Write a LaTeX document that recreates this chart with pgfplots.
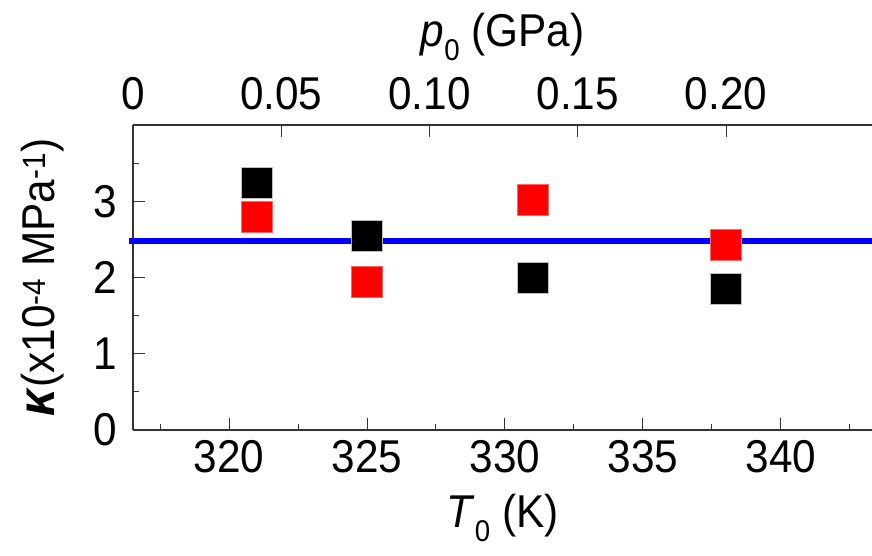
\documentclass[border=0pt]{standalone}
\usepackage{pgfplots}
\pgfplotsset{compat=1.18}
\usepackage{fontspec}
\setmainfont{Liberation Sans}[FakeStretch=0.92]
\newcommand{\bigf}{\fontsize{46}{52}\selectfont}
\newcommand{\subf}{\fontsize{30}{32}\selectfont}
\begin{document}
\bigf
\begin{tikzpicture}
\pgfplotsset{
  common/.style={
    scale only axis, width=739pt, height=305pt,
    ymin=0, ymax=4,
    tick align=inside,
    major tick length=12pt, minor tick length=6pt,
    tick style={black!80, line width=1pt},
    axis line style={black!80, line width=1.2pt, -},
    /pgf/number format/assume math mode=true,
    ticklabel style={font=\bigf},
    label style={font=\bigf},
    clip=false,
  }
}
\begin{axis}[common, name=main,
  xmin=316.52, xmax=343.3,
  axis x line*=bottom, axis y line*=left,
  xtick={320,325,330,335,340},
  minor xtick={317.5,322.5,327.5,332.5,337.5,342.5},
  ytick={0,1,2,3}, minor ytick={0.5,1.5,2.5,3.5},
  xticklabel style={inner sep=0pt, anchor=north, yshift=-10pt},
  yticklabel style={inner sep=0pt, anchor=east, xshift=-16pt},
  xlabel={\textit{T}\raisebox{-0.32em}{\subf 0} (K)},
  xlabel style={at={(axis description cs:0.5,0)}, anchor=center, inner sep=0pt, yshift=-88pt},
  ylabel={{\fontsize{52}{56}\selectfont\textbf{\textit{κ}}}(x10\textsuperscript{-4} MPa\textsuperscript{-1})},
  ylabel style={at={(axis description cs:0,0.5)}, anchor=center, inner sep=0pt, yshift=90pt, xshift=0pt},
]
\addplot[only marks, mark=square*, mark size=15.5pt, mark options={fill=black, draw=gray!50, line width=0.8pt}]
  coordinates {(321,3.24) (325,2.54) (331,2.00) (338,1.85)};
\addplot[only marks, mark=square*, mark size=15.5pt, mark options={fill=red, draw=red!60!white, line width=0.8pt}]
  coordinates {(321,2.80) (325,1.94) (331,3.02) (338,2.43)};
\addplot[blue, line width=6.5pt] coordinates {(316.37,2.48) (343.3,2.48)};
\end{axis}
\begin{axis}[common,
  xmin=0, xmax=0.2492,
  axis x line*=top, axis y line=none,
  xtick={0,0.05,0.1,0.15,0.2},
  xticklabels={0,0.05,0.10,0.15,0.20},
  xticklabel style={inner sep=0pt, anchor=south, yshift=15pt},
  xlabel={\textit{p}\raisebox{-0.32em}{\subf 0} (GPa)},
  xlabel style={at={(axis description cs:0.5,1)}, anchor=center, inner sep=0pt, yshift=88pt},
]
\end{axis}
\pgfresetboundingbox
\path[use as bounding box] ([xshift=-133pt,yshift=-126pt]main.south west) rectangle ([yshift=125pt]main.north east);
\end{tikzpicture}
\end{document}
